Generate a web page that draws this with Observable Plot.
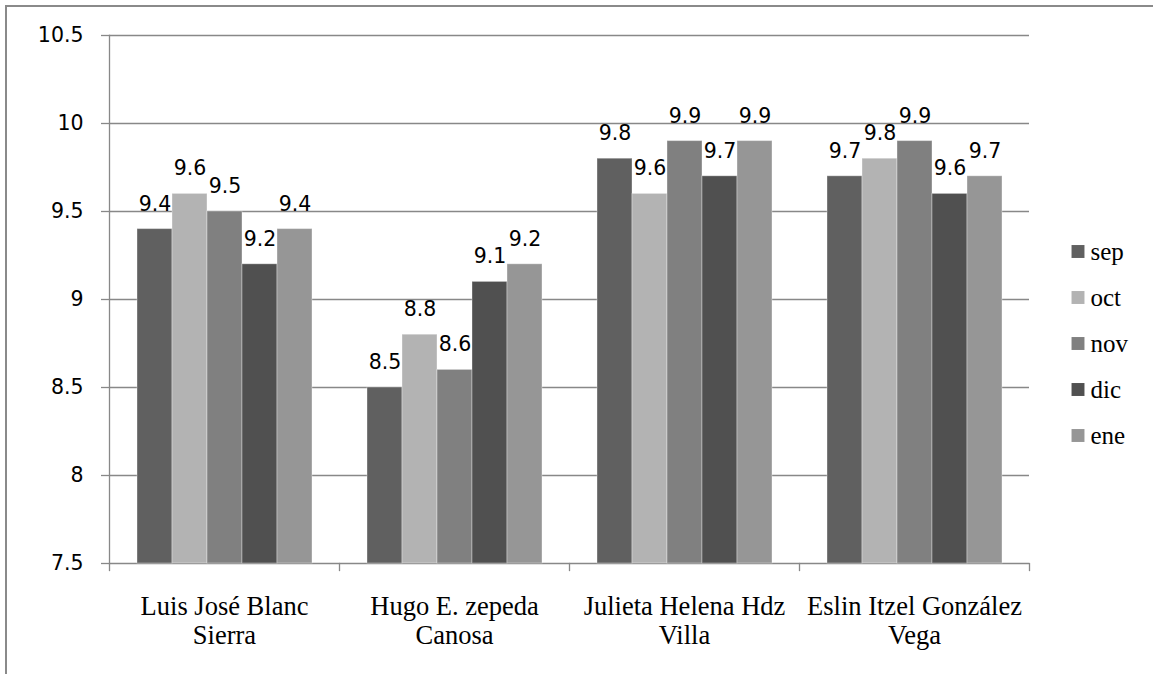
<!DOCTYPE html>
<html>
<head>
<meta charset="utf-8">
<script src="https://cdn.jsdelivr.net/npm/d3@7"></script>
<script src="https://cdn.jsdelivr.net/npm/@observablehq/plot@0.6"></script>
<style>
  html, body { margin: 0; padding: 0; background: #fff; }
  #wrap { position: relative; width: 1153px; height: 674px; overflow: hidden; }
  #frame { position: absolute; left: 5px; top: 5px; right: -10px; bottom: -10px;
           border-top: 2px solid #8a8a8a; border-left: 2px solid #8a8a8a; }
  #chart { position: absolute; left: 0; top: 0; }
</style>
</head>
<body>
<div id="wrap"><div id="frame"></div><div id="chart"></div></div>
<script>
const students = ["Luis José Blanc Sierra", "Hugo E. zepeda Canosa", "Julieta Helena Hdz Villa", "Eslin Itzel González Vega"];
const axisLabels = ["Luis José Blanc\nSierra", "Hugo E. zepeda\nCanosa", "Julieta Helena Hdz\nVilla", "Eslin Itzel González\nVega"];
const months = ["sep", "oct", "nov", "dic", "ene"];
const sep = [9.4, 8.5, 9.8, 9.7];
const oct = [9.6, 8.8, 9.6, 9.8];
const nov = [9.5, 8.6, 9.9, 9.9];
const dic = [9.2, 9.1, 9.7, 9.6];
const ene = [9.4, 9.2, 9.9, 9.7];
const yTicks = [7.5, 8, 8.5, 9, 9.5, 10, 10.5];
const colors = ["#606060", "#b3b3b3", "#808080", "#505050", "#969696"];

const series = {sep, oct, nov, dic, ene};
const data = [];
students.forEach((s, i) => months.forEach(m => data.push({student: s, month: m, value: series[m][i]})));
const baseline = yTicks[0];
const gridColor = "#888888";
const legendStep = 46;

const legendMarks = months.flatMap((m, i) => [
  Plot.dot([m], {frameAnchor: "right", dx: 48.5, dy: -48 + legendStep * i, symbol: "square", r: 7.3,
    fill: colors[i], stroke: "none", facet: "super"}),
  Plot.text([m], {frameAnchor: "right", dx: 61, dy: -48 + legendStep * i, text: d => d, textAnchor: "start",
    fontFamily: "Liberation Serif", fontSize: 25, fill: "#000", facet: "super"})
]);

const chart = Plot.plot({
  width: 1153,
  height: 674,
  marginLeft: 107,
  marginRight: 123,
  marginTop: 35,
  marginBottom: 111,
  style: {background: "transparent", overflow: "visible"},
  fx: {domain: students, padding: 0, label: null},
  x: {domain: months, paddingInner: 0, paddingOuter: 0.76, axis: null},
  y: {domain: [yTicks[0], yTicks[yTicks.length - 1]], ticks: yTicks, label: null},
  color: {domain: months, range: colors},
  marks: [
    Plot.gridY(yTicks, {stroke: gridColor, strokeOpacity: 1, strokeWidth: 1.3}),
    Plot.barY(data, {fx: "student", x: "month", y1: () => baseline, y2: "value", fill: "month",
      stroke: "#ffffff", strokeOpacity: 0.35, strokeWidth: 1}),
    Plot.text(data, {fx: "student", x: "month", y: "value", text: d => String(d.value),
      dy: -25, fontSize: 20.5, fontFamily: "DejaVu Sans", fill: "#000"}),
    Plot.axisY(yTicks, {anchor: "left", tickSize: 8, tickPadding: 18, stroke: gridColor, strokeWidth: 1.3,
      tickFormat: d => String(d), fontSize: 20.5, fontFamily: "DejaVu Sans", fill: "#000", label: null}),
    Plot.frame({anchor: "left", facetAnchor: "left", stroke: gridColor, strokeWidth: 1.3}),
    Plot.frame({anchor: "left", insetTop: 528, insetBottom: -7, stroke: gridColor, strokeWidth: 1.3}),
    Plot.frame({anchor: "right", facetAnchor: "right", insetTop: 528, insetBottom: -7, stroke: gridColor, strokeWidth: 1.3}),
    Plot.axisFx({anchor: "bottom", tickSize: 0, tickPadding: 31, label: null,
      tickFormat: d => axisLabels[students.indexOf(d)], lineHeight: 1.1,
      fontSize: 26.5, fontFamily: "Liberation Serif", fill: "#000"}),
    ...legendMarks
  ]
});
document.getElementById("chart").appendChild(chart);
</script>
</body>
</html>
